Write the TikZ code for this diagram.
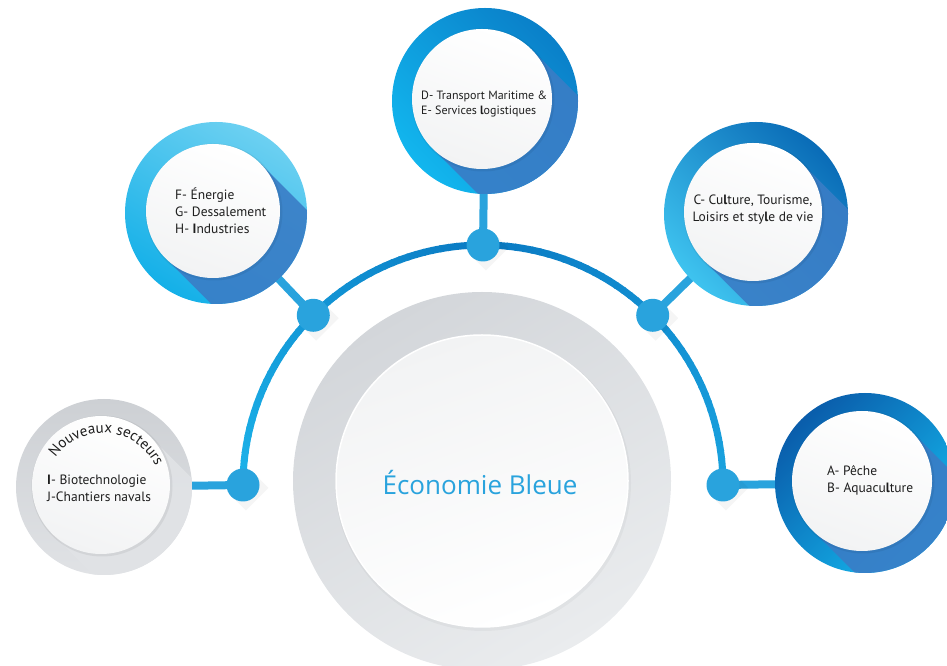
\documentclass[tikz,border=0pt]{standalone}
\usepackage{fontspec}
\setmainfont{PT Sans}
\newfontfamily\titlefont{Open Sans}
\usetikzlibrary{decorations.text}

\definecolor{ringgray}{HTML}{D3D6DA}
\definecolor{ringgraylight}{HTML}{EAECEE}
\definecolor{innergray}{HTML}{F2F3F4}
\definecolor{dotblue}{HTML}{29A3DD}
\definecolor{arcleft}{HTML}{1CB4EA}
\definecolor{arctop}{HTML}{0A7AC3}
\definecolor{arcright}{HTML}{1AA3DF}
\definecolor{shadowblue}{HTML}{3A7DC6}
\definecolor{shadowgray}{HTML}{E1E3E6}
\definecolor{titleblue}{HTML}{29A3DD}
\definecolor{labelgray}{HTML}{1E1E1E}
% ring colours, top / bottom of each shading
\definecolor{dA}{HTML}{0A80C9}\definecolor{dB}{HTML}{12B6EE}
\definecolor{fA}{HTML}{6CD0F1}\definecolor{fB}{HTML}{14B0E8}
\definecolor{cA}{HTML}{0A6CB7}\definecolor{cB}{HTML}{3EC3EF}
\definecolor{aA}{HTML}{0A5DAB}\definecolor{aB}{HTML}{14B8EE}
\definecolor{gA}{HTML}{CDD0D4}\definecolor{gB}{HTML}{E0E2E5}

\newcommand\heavy[1]{\textbf{#1}}

\begin{document}
\begin{tikzpicture}[x=1pt, y=1pt,
    label/.style={font=\fontsize{13.5}{17}\selectfont, text=labelgray, align=left, inner sep=0},
    stem/.style={line width=8, dotblue},
    dot/.style={circle, fill=dotblue, minimum size=33, inner sep=0}]
    \useasboundingbox (0,0) rectangle (947,666);

    % centres
    \coordinate (c) at (482,185);
    \coordinate (o) at (483,181);
    \path (o) ++(180:240) coordinate (pL)
          (o) ++(135:240) coordinate (pF)
          (o) ++(90:240)  coordinate (pD)
          (o) ++(45:240)  coordinate (pC)
          (o) ++(0:240)   coordinate (pA);
    \coordinate (sG) at (104,179);
    \coordinate (sF) at (216,453);
    \coordinate (sD) at (485,565);
    \coordinate (sC) at (756,452);
    \coordinate (sA) at (865,183);

    % big grey ring
    \shade[top color=ringgray, bottom color=ringgraylight, shading angle=30] (c) circle[radius=189];
    \fill[black, opacity=0.03] (c) ++(1,-2) circle[radius=148];
    \shade[top color=innergray, bottom color=white, shading angle=20, draw=white, line width=1.5] (c) circle[radius=146];

    % half circle, darker towards the top
    \foreach \a in {0,2,...,178}{
        \pgfmathtruncatemacro\p{abs(\a+1-90)/90*100}
        \ifnum\a<90 \def\ac{arcright}\else\def\ac{arcleft}\fi
        \draw[line width=7, \ac!\p!arctop] (o) ++(\a:240) arc[start angle=\a, end angle=\a+2.4, radius=240];
    }

    % stems
    \draw[stem] (pL) -- (sG);
    \draw[stem] (pF) -- (sF);
    \draw[stem] (pD) -- (sD);
    \draw[stem] (pC) -- (sC);
    \draw[stem] (pA) -- (sA);

    % satellites: ring, long shadow, white disc
    \foreach \s/\R/\r/\ca/\cb/\ang/\sh in {sG/88/69/gA/gB/0/shadowgray, sF/91/67/fA/fB/-30/shadowblue,
        sD/93/70/dA/dB/-45/shadowblue, sC/92/69/cA/cB/-45/shadowblue, sA/90/70/aA/aB/45/shadowblue}{
        \shade[top color=\ca, bottom color=\cb, shading angle=\ang] (\s) circle[radius=\R];
        \begin{scope}
            \clip (\s) circle[radius=\R];
            \fill[\sh, opacity=0.9] (\s) ++(-3,2) ++(45:\r) -- ++(-45:300) -- ++(225:2*\r) -- ++(135:300) -- cycle;
        \end{scope}
        \fill[black, opacity=0.06] (\s) ++(-2,1) circle[radius=\r+1.5];
        \shade[top color=white, bottom color=innergray, shading angle=-20] (\s) ++(-3,2) circle[radius=\r];
    }

    % dots on the half circle
    \foreach \p in {pL,pF,pD,pC,pA}
        \fill[black, opacity=0.04] (\p) ++(45:16) -- ++(-45:20) -- ++(225:32) -- ++(135:20) -- cycle;
    \node[dot] (dL) at (pL) {};
    \node[dot] (dF) at (pF) {};
    \node[dot] (dD) at (pD) {};
    \node[dot] (dC) at (pC) {};
    \node[dot] (dA) at (pA) {};

    % texts
    \node[font=\titlefont\fontsize{26}{30}\selectfont, text=titleblue] (title) at (480,183) {Économie Bleue};
    \node[label, font=\fontsize{12}{15}\selectfont, anchor=west] (tD) at (421,561.5) {D- Transport Maritime \&\\E- Services \heavy{l}ogistiques};
    \node[label, anchor=west] (tF) at (175,455) {F- Énergie\\G- Dessalement\\H- \heavy{I}ndustries};
    \node[label, align=center] (tC) at (753,456) {C- Cu\heavy{l}ture, Tourisme,\\Loisirs et sty\heavy{l}e de vie};
    \node[label, anchor=west] (tA) at (827,186) {A- Pêche\\B- Aquacu\heavy{l}ture};
    \node[label, anchor=west] (tG) at (47,177.5) {\heavy{I}- Biotechnologie\\J-Chantiers navals};
    \path[decorate, decoration={text along path, text={|\fontsize{15}{15}\selectfont|Nouveaux secteurs},
        text align=center, text color=labelgray}] (sG) ++(-1,-4) ++(165:58) arc[start angle=165, end angle=5, radius=58];
\end{tikzpicture}
\end{document}
